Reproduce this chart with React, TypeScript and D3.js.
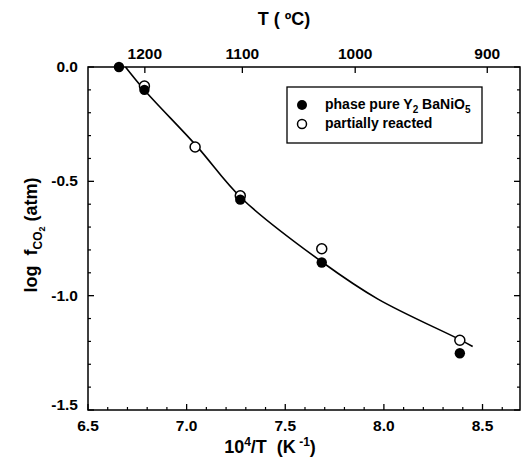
import React from 'react';
import * as d3 from 'd3';

const pureX = [6.657, 6.786, 7.272, 7.685, 8.385];
const pureY = [0.0, -0.1, -0.58, -0.855, -1.252];
const partialX = [6.786, 7.043, 7.272, 7.685, 8.385];
const partialY = [-0.083, -0.35, -0.563, -0.795, -1.195];
const fitX = [6.69, 6.79, 7.05, 7.28, 7.69, 7.97, 8.38, 8.45];
const fitY = [0.0, -0.105, -0.345, -0.575, -0.855, -1.015, -1.19, -1.222];
const bottomTicks = [6.5, 7.0, 7.5, 8.0, 8.5];
const leftTicks = [0.0, -0.5, -1.0, -1.5];
const celsiusTicks = [1200, 1100, 1000, 900];

const W = 522;
const H = 461;
const left = 88;
const right = 520;
const top = 67;
const bottom = 410;

const x = d3.scaleLinear().domain([6.5, 8.69]).range([left, right]);
const y = d3.scaleLinear().domain([0, -1.5]).range([top, bottom]);

const font = '"Liberation Sans", Arial, Helvetica, sans-serif';
const nb = '\u00A0';

export default function App() {
    const line = d3.line<[number, number]>()
        .x(d => x(d[0]))
        .y(d => y(d[1]))
        .curve(d3.curveCatmullRom.alpha(0.5));
    const fitPts: [number, number][] = fitX.map((v, i) => [v, fitY[i]]);

    const minorX = d3.range(65, 87).map(v => v / 10).filter(v => !bottomTicks.includes(v));
    const minorY = d3.range(-15, 1).map(v => v / 10).filter(v => !leftTicks.some(t => Math.abs(t - v) < 1e-9));

    return (
        <svg width={W} height={H} style={{ position: 'absolute', left: 0, top: 0 }} fontFamily={font} fontWeight="bold">
            <rect x={0} y={0} width={W} height={H} fill="#fff" />
            {/* frame */}
            <rect x={left} y={top} width={right - left} height={bottom - top} fill="none" stroke="#000" strokeWidth={1.5} />

            {/* bottom ticks */}
            {bottomTicks.map(t => (
                <g key={'bx' + t}>
                    <line x1={x(t)} x2={x(t)} y1={bottom} y2={bottom - 6} stroke="#000" strokeWidth={1.3} />
                    <text x={x(t)} y={bottom + 21} textAnchor="middle" fontSize={15.5}>{t.toFixed(1)}</text>
                </g>
            ))}
            {minorX.map(t => (
                <line key={'mx' + t} x1={x(t)} x2={x(t)} y1={bottom} y2={bottom - 3} stroke="#000" strokeWidth={1.2} />
            ))}

            {/* left + right ticks */}
            {leftTicks.map(t => (
                <g key={'ly' + t}>
                    <line x1={left} x2={left + 6} y1={y(t)} y2={y(t)} stroke="#000" strokeWidth={1.3} />
                    <line x1={right} x2={right - 6} y1={y(t)} y2={y(t)} stroke="#000" strokeWidth={1.3} />
                    <text x={left - 10} y={y(t) + (t === -1.5 ? 0 : 5)} textAnchor="end" fontSize={15.5}>{t.toFixed(1)}</text>
                </g>
            ))}
            {minorY.map(t => (
                <g key={'my' + t}>
                    <line x1={left} x2={left + 3} y1={y(t)} y2={y(t)} stroke="#000" strokeWidth={1.2} />
                    <line x1={right} x2={right - 3} y1={y(t)} y2={y(t)} stroke="#000" strokeWidth={1.2} />
                </g>
            ))}

            {/* top Celsius axis */}
            {celsiusTicks.map(c => {
                const px = x(1e4 / (c + 273.15));
                return (
                    <g key={'c' + c}>
                        <line x1={px} x2={px} y1={top} y2={top + 6} stroke="#000" strokeWidth={1.3} />
                        <text x={px} y={top - 8} textAnchor="middle" fontSize={15.5}>{c}</text>
                    </g>
                );
            })}

            {/* axis titles */}
            <text x={284} y={25} textAnchor="middle" fontSize={18}>T ( ºC)</text>
            <text x={270} y={453} textAnchor="middle" fontSize={18}>
                10<tspan dy={-7} fontSize={12}>4</tspan><tspan dy={7}>{`/T${nb} (K`}</tspan><tspan dy={-7} fontSize={12}> -1</tspan><tspan dy={7}>)</tspan>
            </text>
            <text transform={`translate(37, ${235}) rotate(-90)`} textAnchor="middle" fontSize={18}>
                {`log${nb} f`}<tspan dy={5} fontSize={12}>CO</tspan><tspan dy={3} fontSize={9}>2</tspan><tspan dy={-8}> (atm)</tspan>
            </text>

            {/* fit curve */}
            <path d={line(fitPts) ?? ''} fill="none" stroke="#000" strokeWidth={1.6} />

            {/* data */}
            {partialX.map((v, i) => (
                <circle key={'o' + i} cx={x(v)} cy={y(partialY[i])} r={5} fill="#fff" stroke="#000" strokeWidth={1.5} />
            ))}
            {pureX.map((v, i) => (
                <circle key={'f' + i} cx={x(v)} cy={y(pureY[i])} r={5.2} fill="#000" />
            ))}

            {/* legend */}
            <rect x={287} y={87} width={195} height={56} fill="#fff" stroke="#000" strokeWidth={1.3} />
            <circle cx={302} cy={105} r={5} fill="#000" />
            <text x={325} y={109} fontSize={14}>
                phase pure Y<tspan dy={4} fontSize={10}>2</tspan><tspan dy={-4}> BaNiO</tspan><tspan dy={4} fontSize={10}>5</tspan>
            </text>
            <circle cx={302} cy={124} r={4.5} fill="#fff" stroke="#000" strokeWidth={1.5} />
            <text x={325} y={128} fontSize={14}>partially reacted</text>
        </svg>
    );
}
